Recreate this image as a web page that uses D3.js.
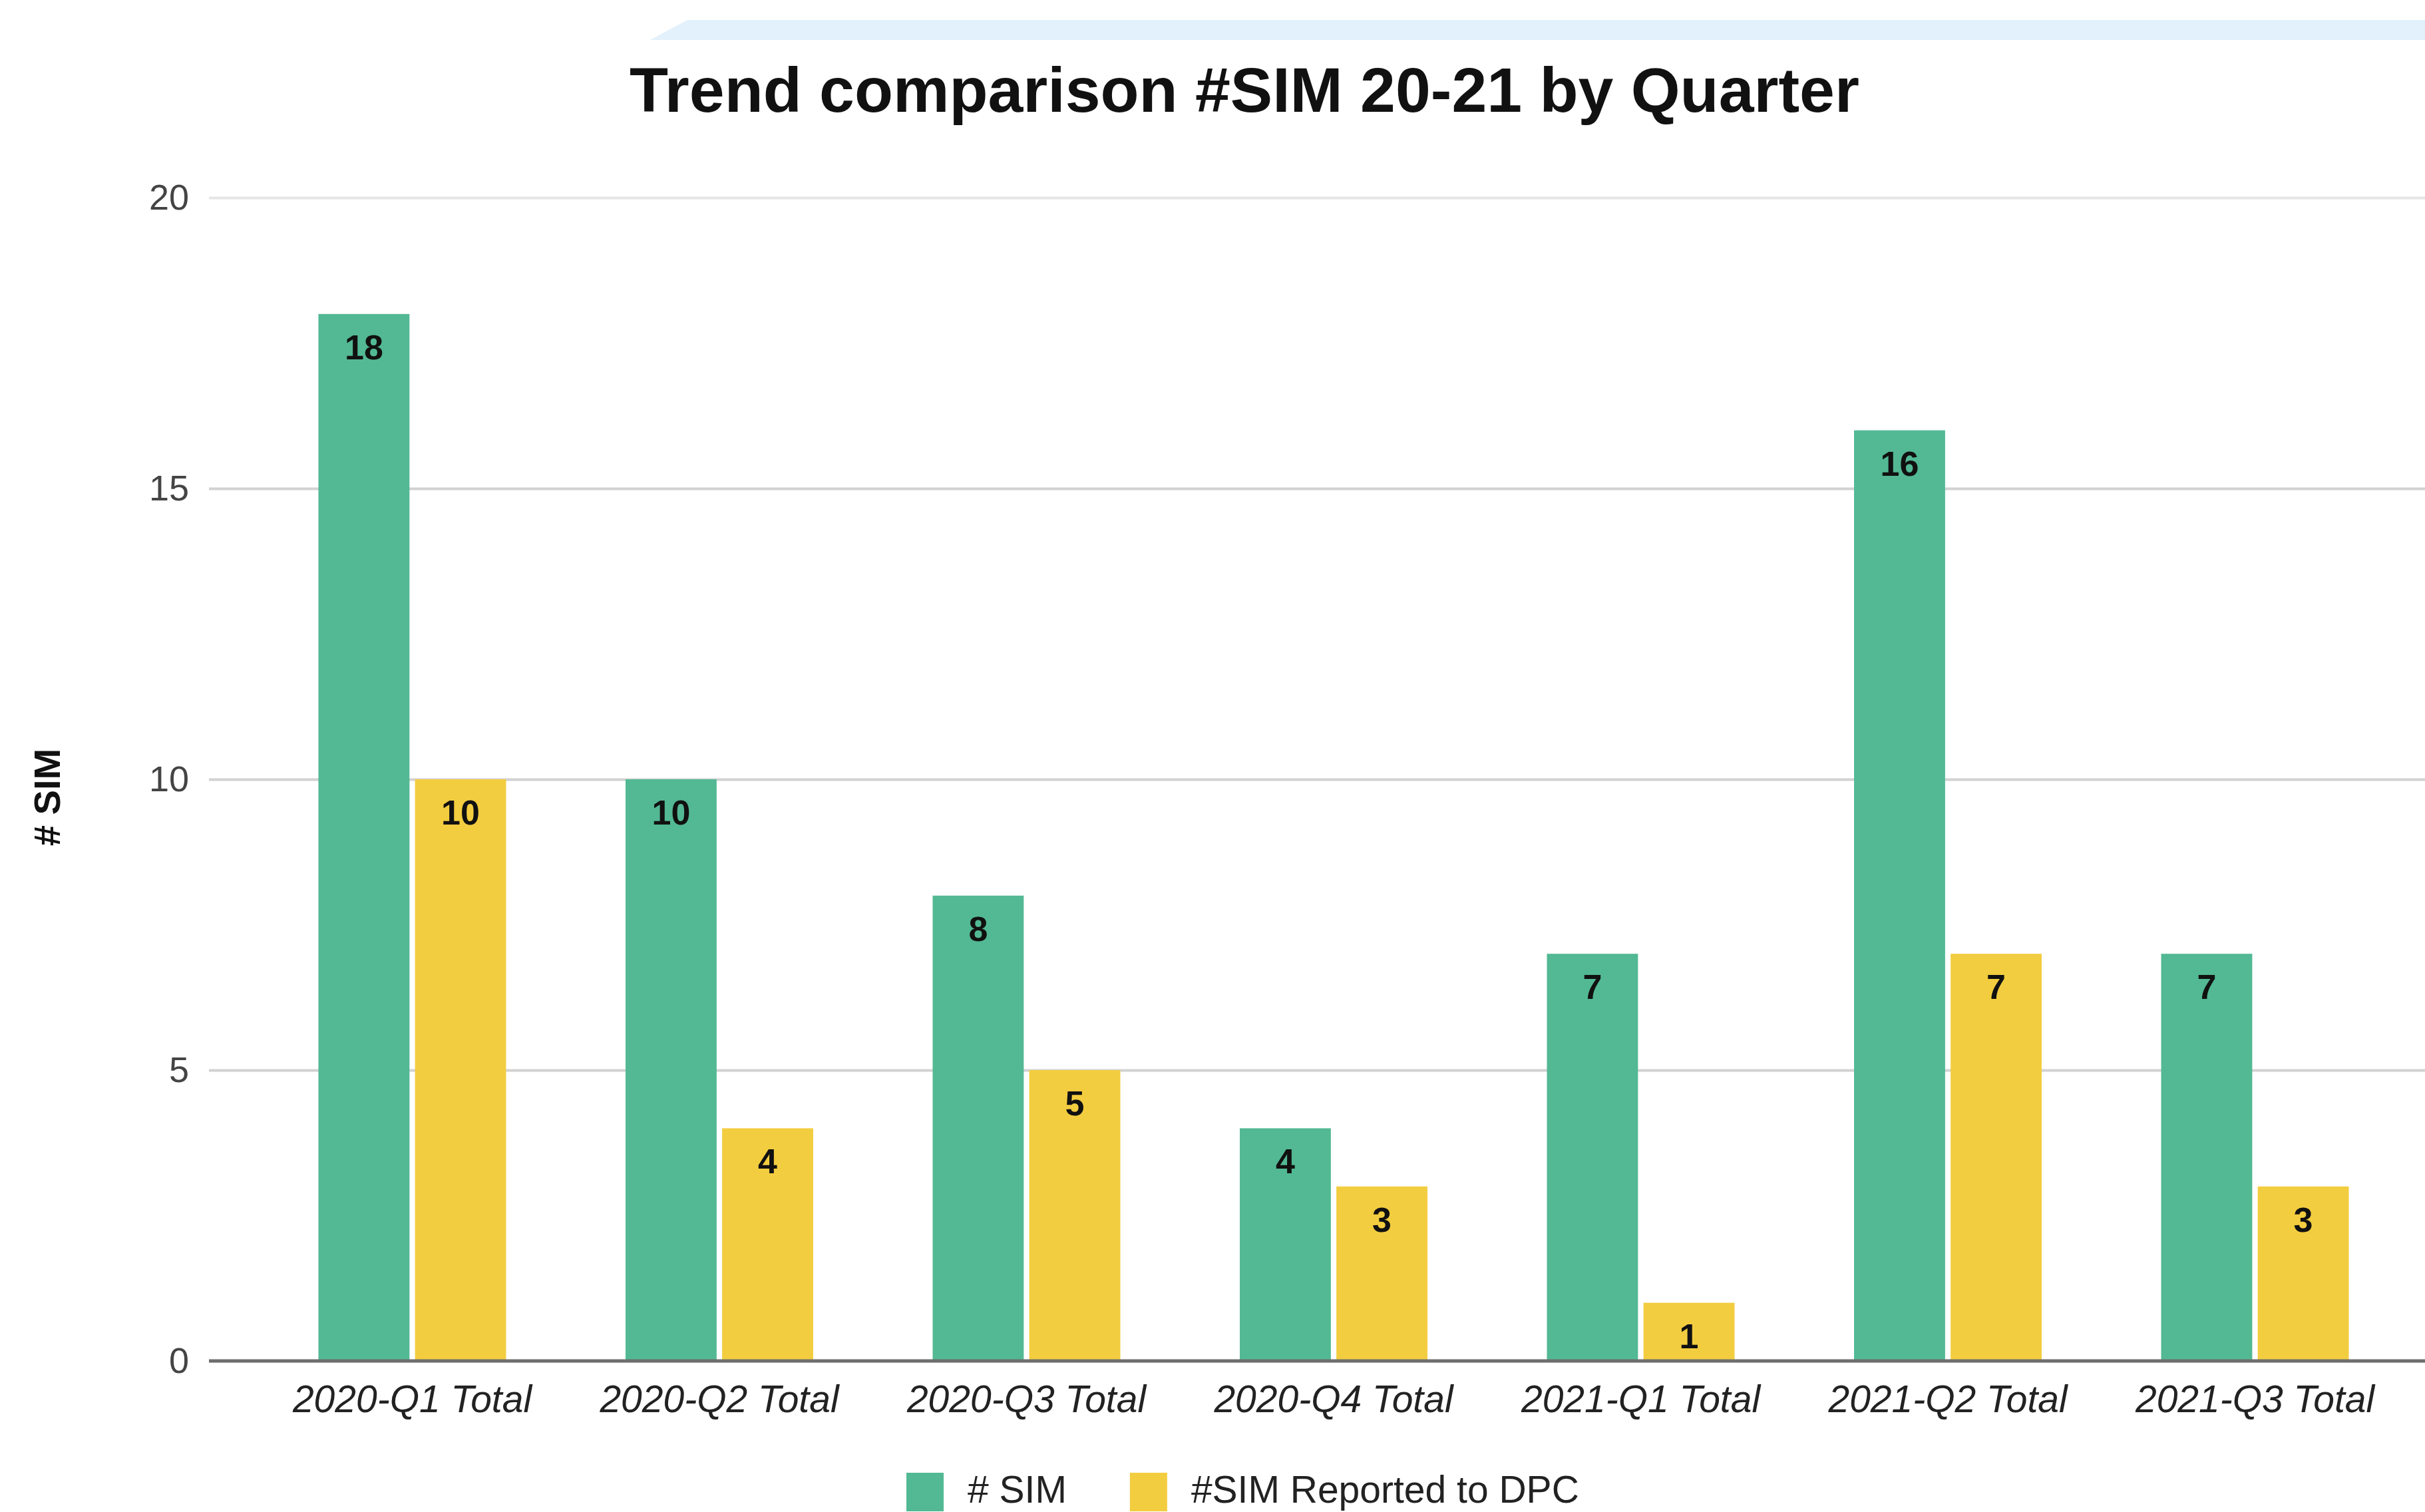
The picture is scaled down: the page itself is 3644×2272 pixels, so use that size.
<!DOCTYPE html>
<html>
<head>
<meta charset="utf-8">
<script src="https://cdn.jsdelivr.net/npm/d3@7"></script>
<style>
  html, body { margin: 0; padding: 0; background: #fff; }
  svg { display: block; font-family: "Liberation Sans", Arial, sans-serif; }
</style>
</head>
<body>
<div id="chart-area"></div>
<script>
// chart values
const quarters = ["2020-Q1 Total", "2020-Q2 Total", "2020-Q3 Total", "2020-Q4 Total",
                  "2021-Q1 Total", "2021-Q2 Total", "2021-Q3 Total"]
const seriesNames = ["# SIM", "#SIM Reported to DPC"]
const simCount = [18, 10, 8, 4, 7, 16, 7]
const reportedCount = [10, 4, 5, 3, 1, 7, 3]
const yTicks = [0, 5, 10, 15, 20]
const colors = ["#52b994", "#f3cd40"]

const WIDTH = 3644
const HEIGHT = 2272
const MARGIN = { LEFT: 314, RIGHT: -50, TOP: 297, BOTTOM: 229 }

const svg = d3.select("#chart-area").append("svg")
  .attr("width", WIDTH)
  .attr("height", HEIGHT)

// faint band at the top of the screenshot
svg.append("path")
  .attr("d", "M977,60 L1033,30 L3644,30 L3644,60 Z")
  .attr("fill", "#e2f1fb")

// title
svg.append("text")
  .attr("x", 1870)
  .attr("y", 168)
  .attr("text-anchor", "middle")
  .attr("font-size", "95px")
  .attr("font-weight", "bold")
  .attr("fill", "#111")
  .text("Trend comparison #SIM 20-21 by Quarter")

const data = quarters.map((q, i) => ({
  quarter: q,
  values: [simCount[i], reportedCount[i]]
}))

const x = d3.scaleBand()
  .domain(quarters)
  .range([MARGIN.LEFT, WIDTH - MARGIN.RIGHT])
  .paddingInner(0.389)
  .paddingOuter(0.3564)

const xInner = d3.scaleBand()
  .domain([0, 1])
  .range([0, x.bandwidth()])
  .paddingInner(0.057)

const y = d3.scaleLinear()
  .domain([0, 20])
  .range([HEIGHT - MARGIN.BOTTOM + 2, MARGIN.TOP])

// gridlines + y tick labels
const yAxis = d3.axisLeft(y)
  .tickValues(yTicks)
  .tickSize(-(WIDTH - MARGIN.LEFT))
  .tickPadding(30)

const yAxisGroup = svg.append("g")
  .attr("transform", `translate(${MARGIN.LEFT}, 0)`)
  .call(yAxis)
yAxisGroup.select(".domain").remove()
yAxisGroup.selectAll(".tick line")
  .attr("stroke", d => d === 20 ? "#e6e6e6" : "#d2d2d2")
  .attr("stroke-width", 4)
yAxisGroup.selectAll(".tick text")
  .attr("font-size", "54px")
  .attr("font-family", "Liberation Sans, Arial, sans-serif")
  .attr("fill", "#444")

// y label
svg.append("text")
  .attr("transform", "translate(90, 1198) rotate(-90)")
  .attr("text-anchor", "middle")
  .attr("font-size", "56px")
  .attr("font-weight", "bold")
  .attr("fill", "#111")
  .text("# SIM")

// bars
const groups = svg.selectAll("g.group")
  .data(data)
  .enter().append("g")
  .attr("class", "group")
  .attr("transform", d => `translate(${x(d.quarter)}, 0)`)

groups.selectAll("rect")
  .data(d => d.values)
  .enter().append("rect")
  .attr("x", (v, i) => xInner(i))
  .attr("y", v => y(v))
  .attr("width", xInner.bandwidth())
  .attr("height", v => y(0) - y(v))
  .attr("fill", (v, i) => colors[i])

groups.selectAll("text.value")
  .data(d => d.values)
  .enter().append("text")
  .attr("class", "value")
  .attr("x", (v, i) => xInner(i) + xInner.bandwidth() / 2)
  .attr("y", v => y(v) + 68)
  .attr("text-anchor", "middle")
  .attr("font-size", "52px")
  .attr("font-weight", "bold")
  .attr("fill", "#111")
  .text(v => v)

// baseline + x labels
const xAxis = d3.axisBottom(x).tickSize(0).tickPadding(0)
const xAxisGroup = svg.append("g")
  .attr("transform", `translate(0, ${y(0)})`)
  .call(xAxis)
xAxisGroup.select(".domain").remove()
xAxisGroup.selectAll(".tick text")
  .attr("y", 77)
  .attr("dy", 0)
  .attr("font-size", "57px")
  .attr("font-style", "italic")
  .attr("font-family", "Liberation Sans, Arial, sans-serif")
  .attr("fill", "#222")
svg.append("line")
  .attr("x1", MARGIN.LEFT)
  .attr("x2", WIDTH)
  .attr("y1", y(0))
  .attr("y2", y(0))
  .attr("stroke", "#6e6e6e")
  .attr("stroke-width", 5)

// legend
const legendStart = 1362
const items = svg.append("g").selectAll("g")
  .data(seriesNames)
  .enter().append("g")
items.append("rect")
  .attr("width", 56)
  .attr("height", 58)
  .attr("y", 2213)
  .attr("fill", (d, i) => colors[i])
items.append("text")
  .attr("x", 92)
  .attr("y", 2258)
  .attr("font-size", "57px")
  .attr("fill", "#222")
  .text(d => d)

let offset = legendStart
items.attr("transform", function () {
  const t = `translate(${offset}, 0)`
  offset += 92 + d3.select(this).select("text").node().getComputedTextLength() + 95
  return t
})
</script>
</body>
</html>
